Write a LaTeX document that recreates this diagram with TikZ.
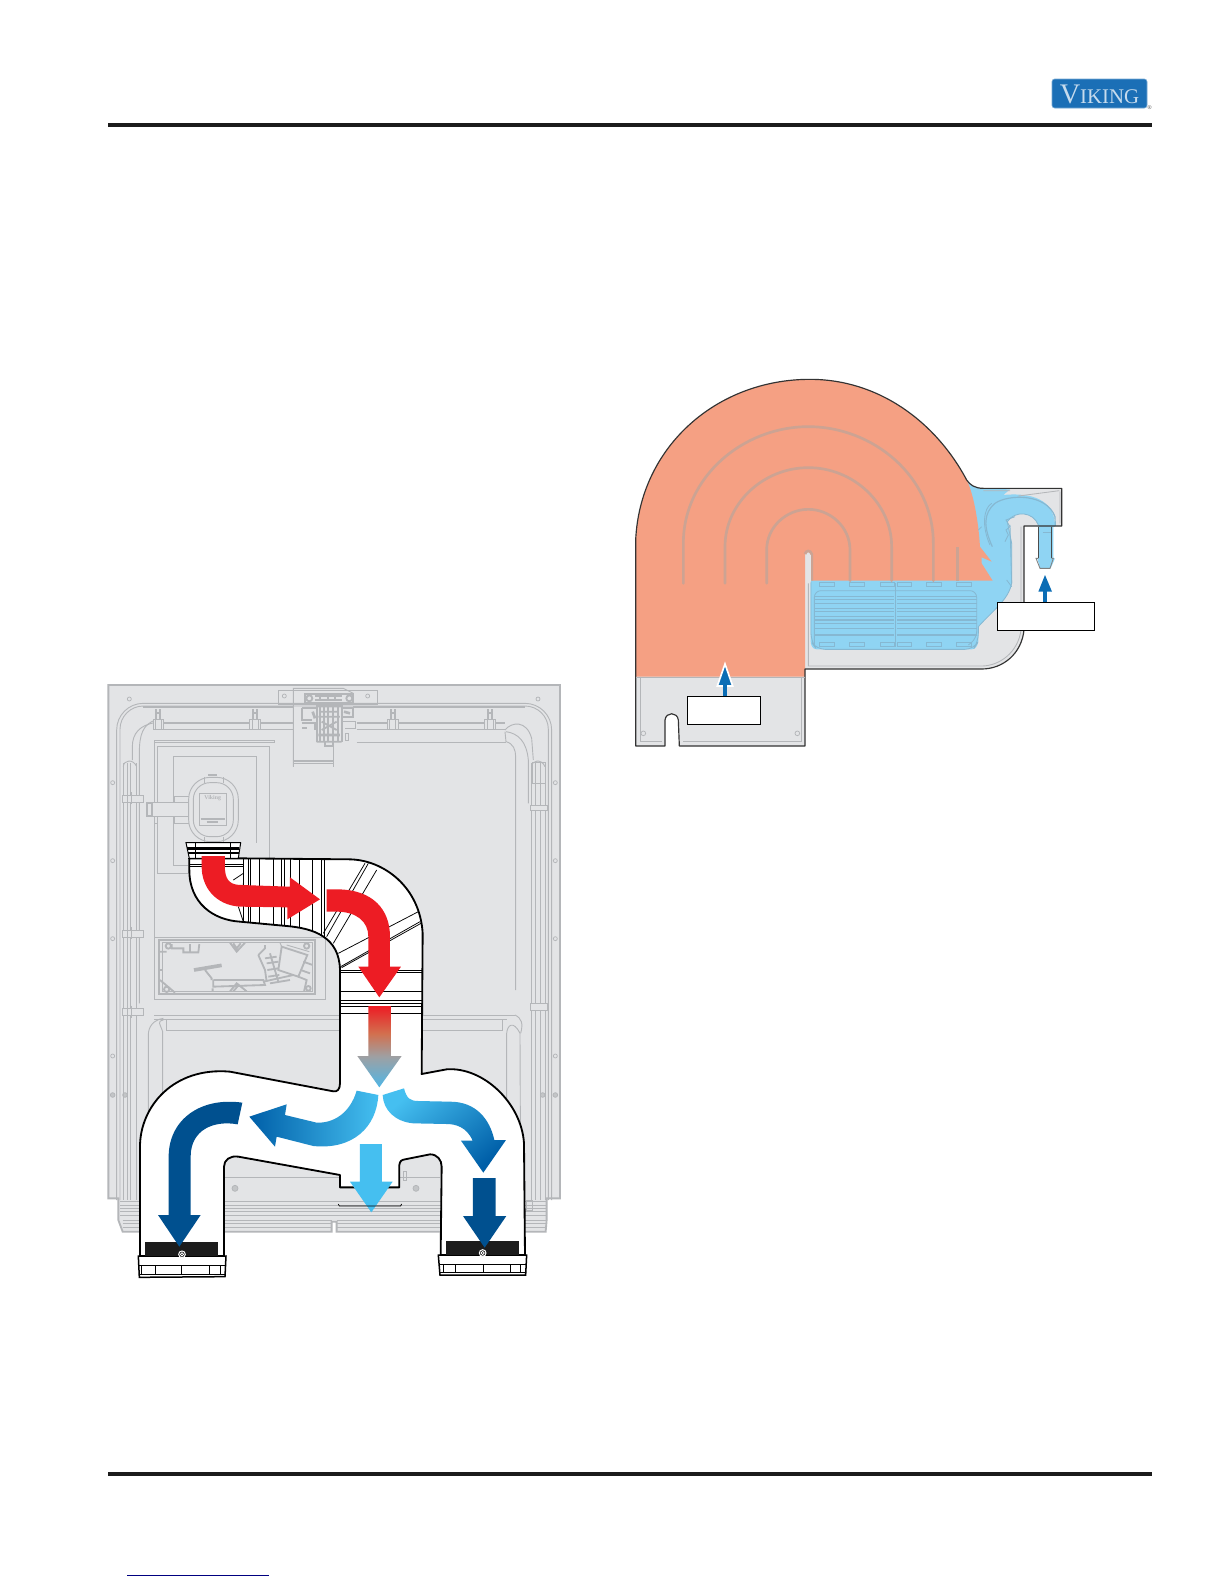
\documentclass[tikz,border=0pt]{standalone}
\usepackage{fontspec}
\setmainfont{Liberation Serif}
\definecolor{plate}{HTML}{E3E4E6}
\definecolor{gline}{HTML}{B4B6B9}
\definecolor{redarrow}{HTML}{ED1C24}
\definecolor{darkblue}{HTML}{00508F}
\definecolor{midblue}{HTML}{005FA8}
\definecolor{lightblue}{HTML}{45BFF0}
\definecolor{salmon}{HTML}{F5A083}
\definecolor{waterblue}{HTML}{8FD4F3}
\definecolor{tanrib}{HTML}{CCA393}
\definecolor{tankline}{HTML}{86B8D2}
\definecolor{upblue}{HTML}{0B6DB5}
\definecolor{logoblue}{HTML}{1B6FB6}
\definecolor{rulecol}{HTML}{1C1C1C}
\definecolor{midgray}{HTML}{9EA0A3}
\definecolor{tipblue}{HTML}{4FB6E6}
\definecolor{fadeorange}{HTML}{D2704F}
\pgfdeclareverticalshading{ductfade}{100bp}{color(0bp)=(tipblue); color(25bp)=(tipblue); color(44bp)=(midgray); color(58bp)=(fadeorange); color(75bp)=(redarrow); color(100bp)=(redarrow)}
\tikzset{
  zone/.style={shift={(#1)},x=0.2pt,y=-0.2pt},
  gl/.style={draw=gline,line width=0.55pt},
  glthick/.style={draw=gline,line width=1.1pt},
  ductline/.style={draw=black,line width=0.45pt},
  ductedge/.style={draw=black,line width=1.1pt},
  rib/.style={draw=tanrib,line width=1.6pt},
  tankl/.style={draw=tankline,line width=0.5pt},
  rulebar/.style={fill=rulecol,draw=none},
  labelbox/.style={draw=black,line width=0.4pt,fill=white},
  hole/.style={draw=gline,line width=0.45pt,fill=plate},
}
\def\ductpath{(268,565) -- (268,600) .. controls (268,700) and (340,750) .. (420,755) -- (560,768) .. controls (640,775) and (718,800) .. (720,900) -- (720,1240) .. controls (720,1258) and (712,1266) .. (700,1264) -- (390,1205) .. controls (220,1190) and (120,1310) .. (120,1430) -- (120,1758) -- (372,1758) -- (372,1490) .. controls (372,1470) and (390,1456) .. (415,1460) -- (720,1515) -- (720,1552) -- (898,1552) -- (898,1485) .. controls (900,1472) and (905,1470) .. (915,1468) -- (990,1453) .. controls (1012,1453) and (1025,1470) .. (1025,1490) -- (1022,1755) -- (1275,1755) -- (1272,1420) .. controls (1265,1300) and (1150,1190) .. (1040,1198) -- (965,1212) -- (968,790) .. controls (960,650) and (850,570) .. (750,568) -- (415,565) -- cycle}
\begin{document}
\begin{tikzpicture}[x=0.6pt,y=-0.6pt]
\useasboundingbox (0,0) rectangle (1224,1584);
\fill[white] (0,0) rectangle (1224,1584);
% header / footer
\fill[rulebar] (108,123) rectangle (1152,127);
\fill[rulebar] (108,1472) rectangle (1152,1476);
\draw[color=blue!50!black,line width=0.6pt] (127,1575.4) -- (269,1575.4);
\fill[logoblue,draw=logoblue!60,line width=0.4pt,rounded corners=1.6pt] (1052,79) rectangle (1147,108);
\node[text=white!75!logoblue,inner sep=0pt] (logo) at (1099.5,94) {\fontsize{17}{17}\selectfont V\fontsize{12.5}{13}\selectfont IKING};
\node[text=black!70,inner sep=0pt] (reg) at (1149.5,108) {\fontsize{3.5}{4}\selectfont ®};
% ---------- left figure ----------
\begin{scope}[zone={100,670}]
  % plate
  \path[fill=plate,draw=gline,line width=1.1pt] (25,45) -- (1380,45) -- (1380,1585) -- (1340,1585) -- (1340,1650) -- (1337,1685) -- (710,1685) -- (710,1655) -- (695,1655) -- (695,1685) -- (68,1685) -- (55,1650) -- (55,1585) -- (25,1585) -- cycle;
  % top bracket
  \draw[gl,fill=plate] (535,62) rectangle (833,103);
  \draw[gl] (580,290) -- (580,55) -- (730,55) -- (760,70);
  \draw[gl] (700,225) -- (700,290) (580,272) -- (700,272) (580,280) -- (700,280);
  \foreach \p in {(553,78),(803,78),(88,87),(1314,87),(38,338),(38,572),(38,806),(1366,338),(1366,572),(1366,806),(38,1158),(1366,1158)}
    \draw[hole] \p circle (6);
  \foreach \p in {(38,1275),(75,1275),(1328,1275),(1366,1275)}
    \draw[hole,fill=gline!80] \p circle (7);
  \foreach \p in {(405,1555),(948,1555)}
    {\draw[hole,fill=gline!80] \p circle (9);}
  % perimeter channel
  \draw[gl,rounded corners=16pt] (50,1590) -- (50,100) -- (1355,100) -- (1355,1590);
  \draw[gl,rounded corners=14pt] (60,1590) -- (60,108) -- (1345,108) -- (1345,1590);
  \draw[glthick] (130,110) -- (580,110) (760,110) -- (1275,110);
  \draw[gl] (70,280) -- (70,1590) (1335,280) -- (1335,1590);
  \draw[gl] (82,280) -- (82,1590) (92,280) -- (92,1590) (108,280) -- (108,1590);
  \draw[gl] (1295,280) -- (1295,1590) (1305,280) -- (1305,1590) (1320,280) -- (1320,1590);
  \draw[gl] (70,290) .. controls (70,270) and (100,265) .. (110,290);
  \draw[gl] (1295,290) .. controls (1295,270) and (1325,265) .. (1335,290);
  % corner shapes
  \draw[gl] (118,1000) -- (118,250) .. controls (118,190) and (130,165) .. (165,150);
  \draw[gl] (97,270) -- (97,230) .. controls (97,190) and (120,165) .. (165,158);
  \draw[gl] (1215,180) .. controls (1235,155) and (1280,150) .. (1295,205) -- (1300,270);
  \draw[gl] (1215,185) -- (1218,215) .. controls (1240,220) and (1247,240) .. (1247,260) -- (1247,960);
  \draw[gl] (1218,185) .. controls (1255,190) and (1280,215) .. (1285,270) -- (1285,400);
  % rails
  \draw[glthick] (190,158) -- (580,158) (770,158) -- (1215,158);
  \draw[gl] (165,178) -- (580,178) (770,178) -- (1215,178) (770,218) -- (1218,218);
  \foreach \x in {175,465,878,1170}{
    \draw[gl,fill=plate] (\x-16,148) rectangle (\x+16,178);
    \draw[glthick] (\x-6,118) -- (\x-6,148) (\x+6,118) -- (\x+6,148) (\x-8,130) -- (\x+8,130);
    \draw[gl] (\x-9,148) -- (\x-9,178) (\x+9,148) -- (\x+9,178);
  }
  % side fittings
  \foreach \y in {385,790,1025}{
    \draw[gl,fill=plate] (68,\y-10) rectangle (130,\y+12);
    \draw[gl] (82,\y-10) -- (82,\y+12) (95,\y-18) -- (95,\y+18);}
  \draw[gl,fill=plate] (1290,405) rectangle (1342,422);
  \draw[gl,fill=plate] (1290,1000) rectangle (1342,1020);
  \draw[gl] (1297,278) rectangle (1335,340);
  % inner panel frames
  \draw[gl] (162,210) -- (522,210) (162,218) -- (522,218) (522,210) -- (522,218);
  \draw[gl] (162,210) -- (162,990);
  \draw[gl] (172,610) -- (172,228) -- (508,228) -- (508,565) (172,610) -- (265,610);
  \draw[gl] (220,585) -- (220,260) -- (470,260) -- (470,520) (220,585) -- (265,585);
  % filter (zoom-8 coordinates)
  \begin{scope}[shift={(120,270)}]
    \draw[gl,fill=plate] (103,110) rectangle (148,190);
    \draw[gl] (103,130) -- (148,130) (103,170) -- (148,170);
    \draw[gl,fill=plate] (20,128) rectangle (145,168);
    \draw[glthick,fill=plate] (20,128) rectangle (36,168);
    \draw[gl] (42,168) rectangle (52,190);
    \draw[gl,fill=plate,rounded corners=13pt] (146,52) rectangle (295,245);
    \draw[gl,rounded corners=10pt] (160,68) rectangle (280,230);
    \draw[gl] (194,52) -- (194,68) (250,52) -- (250,68) (194,230) -- (194,245) (250,230) -- (250,245);
    \draw[glthick] (205,46) -- (232,46);
    \draw[gl] (178,100) rectangle (258,195);
    \node[text=gline,inner sep=0pt,font=\bfseries] (brand) at (218,113) {\fontsize{3.5}{4}\selectfont Viking};
    \draw[glthick] (182,177) -- (255,177) (200,187) -- (235,187);
  \end{scope}
  % top-centre mechanism (zoom-6 coordinates)
  \begin{scope}[shift={(510,30)}]
    \draw[glthick,fill=plate] (105,42) rectangle (250,70);
    \draw[glthick,fill=plate] (118,55) circle (9) (238,55) circle (9);
    \draw[glthick] (135,48) -- (215,48) (135,60) -- (215,60) (150,48) -- (150,60) (175,48) -- (175,60) (195,48) -- (195,60);
    \draw[glthick] (95,85) -- (140,85) -- (140,125) (95,85) -- (95,120) -- (125,120);
    \draw[glthick] (215,85) -- (250,85) -- (250,110) -- (215,110);
    \draw[glthick] (95,130) -- (135,130) -- (135,150) (97,145) -- (110,145);
    \draw[gl] (220,125) -- (255,125) -- (255,145) -- (225,145) (225,160) rectangle (235,180);
    \foreach \x in {140,150,162,175,190,205,215}
      \draw[glthick] (\x,72) -- (\x,185);
    \draw[glthick] (140,185) -- (215,185) (145,110) -- (210,110) (150,95) -- (205,95) (155,125) -- (200,150) (200,125) -- (155,150);
    \draw[draw=gline,line width=1.6pt] (140,78) -- (215,78) (145,165) -- (210,165) (128,95) -- (135,115) (222,95) -- (240,100);
    \draw[glthick] (165,185) -- (165,198) -- (190,198) -- (190,185);
    \draw[gl] (70,25) -- (70,260);
    \draw[gl] (70,245) -- (190,245);
  \end{scope}
  % control board (zoom-7 coordinates)
  \begin{scope}[shift={(150,750)}]
    \draw[gl] (12,52) rectangle (525,238);
    \draw[glthick] (28,60) rectangle (495,222);
    \draw[gl] (36,68) rectangle (488,214);
    \draw[glthick] (55,78) circle (8) (470,78) circle (8) (50,208) circle (8) (475,205) circle (7);
    \draw[glthick] (65,72) -- (65,85) -- (100,85) -- (100,97) -- (145,97) -- (148,72) (120,72) -- (120,97);
    \draw[glthick] (240,68) -- (260,95) -- (285,68) (250,70) -- (260,85) -- (272,70);
    \draw[draw=gline,line width=2.2pt] (132,150) -- (215,136);
    \draw[glthick] (165,150) -- (185,175) -- (185,180);
    \draw[glthick] (30,180) -- (75,218) (30,95) -- (50,95) (30,150) -- (36,150);
    \draw[glthick] (190,180) -- (340,180) -- (345,195) -- (190,200) -- (190,180) (188,205) -- (188,214) (240,214) -- (260,190) -- (290,214) (250,214) -- (262,200);
    \draw[glthick] (340,185) -- (430,165) (360,190) -- (420,180);
    \draw[glthick] (325,105) -- (345,85) -- (345,75) (325,105) -- (345,150) -- (350,185) (360,100) -- (385,185) (345,115) -- (380,110) (350,130) -- (385,125) (352,150) -- (385,145) (355,170) -- (388,165);
    \draw[glthick] (395,80) -- (472,105) -- (445,170) -- (385,150) -- cycle;
    \draw[gl] (410,75) -- (478,95) (390,68) -- (395,80);
    \draw[glthick] (445,170) -- (470,180) -- (462,215) (452,150) -- (480,160) (460,125) -- (488,135);
  \end{scope}
  % lower frame (zoom-2 numbers + 930)
  \draw[gl] (162,1035) -- (720,1035) (162,1048) -- (720,1048) (965,1035) -- (1245,1035) (965,1048) -- (1220,1048);
  \draw[gl] (145,1580) -- (145,1095) .. controls (145,1070) and (160,1050) .. (190,1045);
  \draw[gl] (188,1580) -- (188,1085) .. controls (180,1060) and (170,1055) .. (190,1050);
  \draw[gl] (200,1050) -- (200,1082) -- (720,1082) (1208,1050) -- (1208,1082) -- (968,1082);
  \draw[gl] (1220,1580) -- (1220,1090) .. controls (1222,1065) and (1240,1050) .. (1260,1090) -- (1262,1580);
  \draw[gl] (1245,1035) .. controls (1265,1045) and (1270,1060) .. (1262,1090);
  \draw[gl] (375,1522) -- (720,1522) (900,1522) -- (1020,1522);
  \draw[gl] (910,1505) rectangle (918,1530);
  \foreach \y in {1595,1605,1615,1625,1635}
    \draw[gl] (60,\y) -- (1340,\y);
  \draw[gl] (68,1650) -- (695,1650) (710,1650) -- (1337,1650) (68,1660) -- (695,1660) (710,1660) -- (1337,1660) (68,1672) -- (695,1672) (710,1672) -- (1337,1672);
  \draw[gl] (1280,1590) rectangle (1298,1620);
  % duct
  \path[fill=white] \ductpath;
  \path[fill=white] (138,1758) rectangle (378,1820) (1018,1755) rectangle (1280,1815);
  \begin{scope}
    \clip \ductpath;
    \foreach \x in {430,445,452,478,520,545,552,570,598,638,665,672}
      \draw[ductline] (\x,566) -- (\x,800);
    \draw[ductline] (445,566) -- (445,760) (452,566) -- (452,760) (545,566) -- (545,770) (552,566) -- (552,770) (570,566) -- (570,770);
    \draw[ductline] (805,580) -- (680,800) (795,580) -- (670,790) (830,600) -- (700,820);
    \draw[ductline] (955,725) -- (715,850) (960,755) -- (722,890) (963,760) -- (725,893);
    \foreach \y in {900,908,965,990,1000,1010,1030}
      \draw[ductline] (720,\y) -- (968,\y);
    \draw[ductline] (268,582) -- (430,582) (268,590) -- (430,590);
    \draw[ductline] (430,610) -- (400,630) (430,640) -- (430,700);
    \draw[ductline] (415,710) -- (430,755);
  \end{scope}
  \path[ductedge,line join=round] \ductpath;
  % collar
  \draw[draw=black,line width=0.6pt,fill=white] (258,518) -- (422,518) -- (415,565) -- (268,565) -- cycle;
  \draw[draw=black,line width=1.5pt] (262,536) -- (418,536);
  \draw[draw=black,line width=1pt] (264,548) -- (416,548);
  \draw[draw=black,line width=0.7pt] (265,565) -- (415,565);
  \foreach \x in {287,392}
    \draw[ductline] (\x,520) -- (\x,565);
  % feet
  \draw[draw=black,line width=0.9pt,fill=white] (115,1758) -- (378,1758) -- (375,1820) -- (118,1822) -- cycle;
  \draw[ductline] (118,1785) -- (375,1785) (118,1812) -- (375,1812);
  \foreach \x in {125,165,245,328,362}
    \draw[ductline] (\x,1785) -- (\x,1812);
  \draw[draw=black,line width=0.9pt,fill=white] (1015,1755) -- (1280,1755) -- (1277,1815) -- (1020,1815) -- cycle;
  \draw[ductline] (1018,1782) -- (1278,1782) (1020,1806) -- (1276,1806);
  \foreach \x in {1030,1065,1150,1230,1262}
    \draw[ductline] (\x,1782) -- (\x,1806);
  \fill[rulecol] (135,1717) rectangle (355,1758);
  \fill[rulecol] (1038,1713) rectangle (1257,1755);
  \draw[white,line width=0.6pt,fill=black] (246,1753) circle (10);
  \draw[white,line width=0.5pt] (246,1753) circle (5);
  \draw[white,line width=0.6pt,fill=black] (1148,1749) circle (10);
  \draw[white,line width=0.5pt] (1148,1749) circle (5);
  % red arrows
  \fill[redarrow] (305,558) -- (375,558) -- (375,600) .. controls (378,635) and (395,645) .. (425,645) -- (570,650) -- (570,622) -- (660,688) -- (562,748) -- (562,712) -- (420,710) .. controls (345,705) and (305,650) .. (305,590) -- cycle;
  \fill[redarrow] (680,658) -- (710,658) .. controls (820,658) and (870,720) .. (870,800) -- (870,890) -- (903,890) -- (838,982) -- (775,890) -- (805,890) -- (805,800) .. controls (805,755) and (770,725) .. (710,725) -- (680,725) -- cycle;
\end{scope}
\begin{scope}[zone={100,980}]
  \shade[shading=ductfade] (805,78) -- (873,78) -- (873,228) -- (905,228) -- (838,322) -- (772,228) -- (805,228) -- cycle;
  \shade[left color=midblue,right color=lightblue] (770,332) .. controls (750,400) and (700,430) .. (650,428) -- (555,405) -- (560,373) -- (448,410) -- (525,500) -- (530,470) -- (640,498) .. controls (760,510) and (830,440) .. (835,345) -- cycle;
  \shade[top color=lightblue,bottom color=midblue,shading angle=40] (848,345) -- (912,325) .. controls (920,355) and (930,363) .. (955,363) -- (1050,365) .. controls (1130,365) and (1170,420) .. (1183,480) -- (1218,480) -- (1150,578) -- (1083,482) -- (1118,482) .. controls (1100,440) and (1065,432) .. (1040,432) -- (940,430) .. controls (885,425) and (850,390) .. (848,345) -- cycle;
  \fill[lightblue] (780,492) -- (846,492) -- (846,605) -- (878,605) -- (814,697) -- (750,605) -- (780,605) -- cycle;
  \fill[darkblue] (1119,594) -- (1187,594) -- (1187,708) -- (1219,708) -- (1154,803) -- (1089,708) -- (1119,708) -- cycle;
  \fill[darkblue] (427,368) -- (413,433) .. controls (340,420) and (272,450) .. (272,530) -- (272,705) -- (302,705) -- (238,800) -- (174,705) -- (206,705) -- (206,530) .. controls (206,420) and (300,350) .. (427,368) -- cycle;
  \draw[black,line width=0.45pt] (715,672) -- (718,678) -- (902,678) -- (905,672);
\end{scope}
% ---------- right figure ----------
\begin{scope}[zone={620,370}]
  \def\outline{(47,1128) -- (47,510) .. controls (60,230) and (290,28) .. (570,28) .. controls (780,28) and (950,160) .. (1040,330) .. controls (1050,345) and (1065,355) .. (1090,355) -- (1325,355) -- (1325,468) -- (1212,468) -- (1212,780) .. controls (1205,850) and (1150,897) .. (1085,897) -- (555,897) -- (555,1128) -- (178,1128) -- (175,1050) .. controls (172,1025) and (138,1025) .. (135,1050) -- (135,1128) -- cycle}
  \fill[plate] \outline;
  % water
  \fill[waterblue] (1030,320) -- (1045,340) .. controls (1060,352) and (1075,356) .. (1090,356) -- (1170,358) -- (1150,375) .. controls (1200,370) and (1305,370) .. (1305,470) -- (1300,470) -- (1300,565) -- (1305,565) -- (1292,595) -- (1260,595) -- (1252,565) -- (1255,565) -- (1255,465) .. controls (1240,425) and (1185,420) .. (1162,455) -- (1175,520) -- (1175,640) .. controls (1165,690) and (1120,720) .. (1075,770) -- (1075,815) .. controls (1072,830) and (1065,838) .. (1055,838) -- (590,838) .. controls (578,838) and (572,825) .. (572,815) -- (572,620) -- (900,600) -- cycle;
  \draw[tankl] (1255,465) .. controls (1240,425) and (1185,420) .. (1162,455) -- (1175,520) -- (1175,640) .. controls (1165,690) and (1120,720) .. (1075,770);
  % salmon
  \fill[salmon] (47,920) -- (47,510) .. controls (60,230) and (290,28) .. (570,28) .. controls (780,28) and (950,160) .. (1040,330) .. controls (1060,370) and (1075,450) .. (1080,530) -- (1115,575) -- (1085,562) -- (1085,580) -- (1118,632) -- (575,632) -- (575,552) .. controls (572,540) and (558,540) .. (555,552) -- (555,920) -- cycle;
  % ribs
  \draw[rib,line cap=round] (190,640) -- (190,520) .. controls (190,320) and (370,170) .. (565,170) .. controls (760,170) and (940,320) .. (940,520) -- (940,632);
  \draw[rib,line cap=round] (315,640) -- (315,530) .. controls (315,400) and (430,293) .. (565,293) .. controls (700,293) and (815,400) .. (815,530) -- (815,632);
  \draw[rib,line cap=round] (440,640) -- (440,540) .. controls (440,470) and (500,418) .. (565,418) .. controls (630,418) and (690,470) .. (690,540) -- (690,632);
  \draw[rib] (1012,532) -- (1012,632);
  \draw[rib] (555,552) .. controls (558,540) and (572,540) .. (575,552) -- (575,632);
  \fill[plate] (558,555) rectangle (572,640);
  % tank (zoom-10 coordinates)
  \begin{scope}[shift={(525,600)}]
    \draw[tankl,rounded corners=5pt] (48,35) -- (48,215) -- (65,238) -- (535,238) -- (550,215) -- (550,170);
    \draw[tankl,rounded corners=4pt] (58,225) -- (58,62) -- (545,62) -- (545,205) -- (520,225);
    \foreach \y in {80,100,115,125,140,150,175,195}{
      \draw[tankl,line width=0.8pt] (58,\y) -- (298,\y);
      \draw[tankl,line width=0.8pt] (305,\y) -- (545,\y);}
    \draw[tankl] (58,88) -- (298,88) (305,88) -- (545,88) (58,160) -- (298,160) (305,160) -- (545,160);
    \draw[tankl] (300,40) -- (300,230);
    \foreach \a/\b in {72/118,163/208,255/297,307/348,393/440,485/530}{
      \draw[tankl] (\a,38) rectangle (\b,50);
      \draw[tankl] (\a,218) rectangle (\b,228);}
  \end{scope}
  % pipe (zoom-9 coordinates)
  \begin{scope}[shift={(990,300)}]
    \draw[tankl,line width=0.7pt] (127,230) .. controls (100,170) and (100,130) .. (135,100) .. controls (175,72) and (290,70) .. (315,140) -- (316,168);
    \draw[tankl] (120,225) .. controls (95,170) and (100,115) .. (125,100) (95,170) -- (85,180);
    \draw[tankl] (165,215) -- (175,195) -- (168,180) -- (180,170) -- (168,150) -- (195,140);
    \draw[tankl] (180,165) -- (185,340) (170,330) -- (185,350);
    \draw[draw=black!70,line width=0.8pt] (265,170) -- (265,265) (305,170) -- (305,265);
    \draw[draw=black!50,line width=0.5pt] (265,265) -- (258,265) -- (270,295) -- (300,295) -- (310,265) -- (305,265);
    \draw[tankl] (278,186) -- (302,186);
  \end{scope}
  % outer outline
  \draw[black!80,line width=0.7pt,line join=round] \outline;
  \draw[gline,line width=0.6pt] (60,920) -- (60,1115) -- (125,1115) (190,1115) -- (545,1115) -- (545,920);
  \draw[gline,line width=1pt] (47,922) -- (555,922);
  \draw[gline,line width=0.5pt] (1320,365) -- (1320,460) (1090,362) -- (1170,362) (1195,378) -- (1318,362);
  \draw[gline,line width=0.5pt] (1203,470) -- (1203,780) .. controls (1195,845) and (1140,888) .. (1085,888) -- (565,888) -- (565,640);
  \draw[hole] (70,1090) circle (7) (532,1090) circle (7);
  % up arrows
  \draw[white,line width=1pt,fill=upblue,line join=miter] (315,882) -- (292,948) -- (338,948) -- cycle;
  \fill[upblue] (310,945) rectangle (321,980);
  \fill[upblue] (1275,615) -- (1296,665) -- (1255,665) -- cycle;
  \fill[upblue] (1270,660) rectangle (1280,698);
  % label boxes
  \node[labelbox,minimum width=44pt,minimum height=16.6pt,inner sep=0pt] (boxleft) at (312,1021.5) {};
  \node[labelbox,minimum width=58.4pt,minimum height=16.8pt,inner sep=0pt] (boxright) at (1278,739) {};
\end{scope}
\end{tikzpicture}
\end{document}
